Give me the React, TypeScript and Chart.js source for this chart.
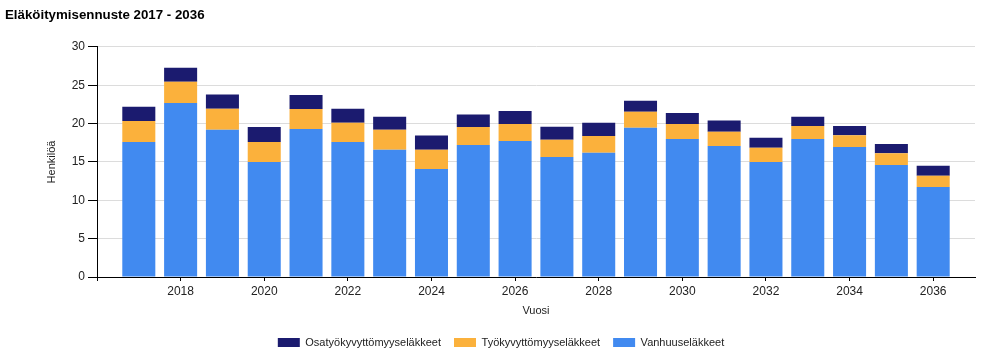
import React, { useEffect, useRef } from "react";
import { Chart, registerables } from "chart.js";

Chart.register(...registerables);

const years = [2017, 2018, 2019, 2020, 2021, 2022, 2023, 2024, 2025, 2026, 2027, 2028, 2029, 2030, 2031, 2032, 2033, 2034, 2035, 2036];
const vanhuus = [17.6, 22.7, 19.2, 15.0, 19.3, 17.6, 16.6, 14.1, 17.2, 17.75, 15.65, 16.2, 19.45, 18.0, 17.1, 15.0, 18.0, 16.95, 14.6, 11.75];
const tyokyvyttomyys = [2.75, 2.75, 2.75, 2.6, 2.6, 2.5, 2.6, 2.5, 2.35, 2.2, 2.25, 2.2, 2.1, 1.95, 1.85, 1.85, 1.7, 1.55, 1.55, 1.45];
const osatyokyvyttomyys = [1.85, 1.85, 1.85, 1.95, 1.85, 1.85, 1.7, 1.85, 1.65, 1.7, 1.7, 1.7, 1.45, 1.45, 1.45, 1.3, 1.2, 1.2, 1.2, 1.3];

const seriesNames = ["Vanhuuseläkkeet", "Työkyvyttömyyseläkkeet", "Osatyökyvyttömyyseläkkeet"];
const seriesColors = ["#418af0", "#fbb13c", "#1b1b6f"];

const xTickValues = [2016, 2018, 2020, 2022, 2024, 2026, 2028, 2030, 2032, 2034, 2036];
const xTickLabels = ["", "2018", "2020", "2022", "2024", "2026", "2028", "2030", "2032", "2034", "2036"];
const yTickStep = 5;

const FONT = "'Liberation Sans', Arial, sans-serif";

const legendShift = {
  id: "legendShift",
  afterLayout(chart: any) {
    if (chart.legend) {
      chart.legend.left += 22;
    }
  },
};

export default function App() {
  const ref = useRef<HTMLCanvasElement | null>(null);

  useEffect(() => {
    if (!ref.current) return;
    const series = [vanhuus, tyokyvyttomyys, osatyokyvyttomyys];
    const chart = new Chart(ref.current, {
      type: "bar",
      data: {
        datasets: series.map((vals, si) => ({
          label: seriesNames[si],
          data: years.map((yr, i) => ({ x: yr, y: vals[i] })),
          backgroundColor: seriesColors[si],
          borderWidth: 0,
          barPercentage: 0.79,
          categoryPercentage: 1,
        })),
      },
      plugins: [legendShift],
      options: {
        responsive: false,
        animation: false,
        layout: { padding: { left: 5, right: 13, top: 0, bottom: 0 } },
        plugins: {
          tooltip: { enabled: false },
          title: {
            display: true,
            text: "Eläköitymisennuste 2017 - 2036",
            align: "start",
            color: "#000",
            font: { family: FONT, size: 13.3, weight: "bold" },
            padding: { top: 7, bottom: 24 },
          },
          legend: {
            display: true,
            position: "bottom",
            reverse: true,
            labels: {
              boxWidth: 22,
              boxHeight: 9,
              padding: 13,
              color: "#222",
              font: { family: FONT, size: 11 },
            },
          },
        },
        scales: {
          x: {
            type: "linear",
            stacked: true,
            min: 2016,
            max: 2037,
            offset: false,
            afterBuildTicks: (scale: any) => {
              scale.ticks = xTickValues.map((v) => ({ value: v }));
            },
            afterFit: (scale: any) => {
              scale.height = 47;
            },
            ticks: {
              autoSkip: false,
              maxRotation: 0,
              padding: 3,
              color: "#222",
              font: { family: FONT, size: 12 },
              callback: (value: any) => {
                const idx = xTickValues.indexOf(Number(value));
                return idx >= 0 ? xTickLabels[idx] : "";
              },
            },
            grid: {
              offset: false,
              drawOnChartArea: false,
              drawTicks: true,
              tickLength: 4,
              tickColor: "#000",
            },
            border: { display: true, color: "#000", width: 1 },
            title: {
              display: true,
              text: "Vuosi",
              color: "#222",
              font: { family: FONT, size: 11 },
              padding: { top: 0, bottom: 6.4 },
            },
          },
          y: {
            stacked: true,
            min: 0,
            max: 30,
            afterFit: (scale: any) => {
              scale.width = 92;
            },
            ticks: {
              stepSize: yTickStep,
              padding: 3,
              color: "#222",
              font: { family: FONT, size: 12 },
            },
            grid: {
              color: "#dcdcdc",
              drawTicks: true,
              tickLength: 9,
              tickColor: "#000",
            },
            border: { display: true, color: "#000", width: 1 },
            title: {
              display: true,
              text: "Henkilöä",
              color: "#222",
              font: { family: FONT, size: 11 },
              padding: { top: 40, bottom: 0 },
            },
          },
        },
      },
    });
    return () => chart.destroy();
  }, []);

  return (
    <div style={{ position: "absolute", left: 0, top: 0, width: 988, height: 358, background: "#fff" }}>
      <canvas ref={ref} width={988} height={358} style={{ display: "block" }} />
    </div>
  );
}
